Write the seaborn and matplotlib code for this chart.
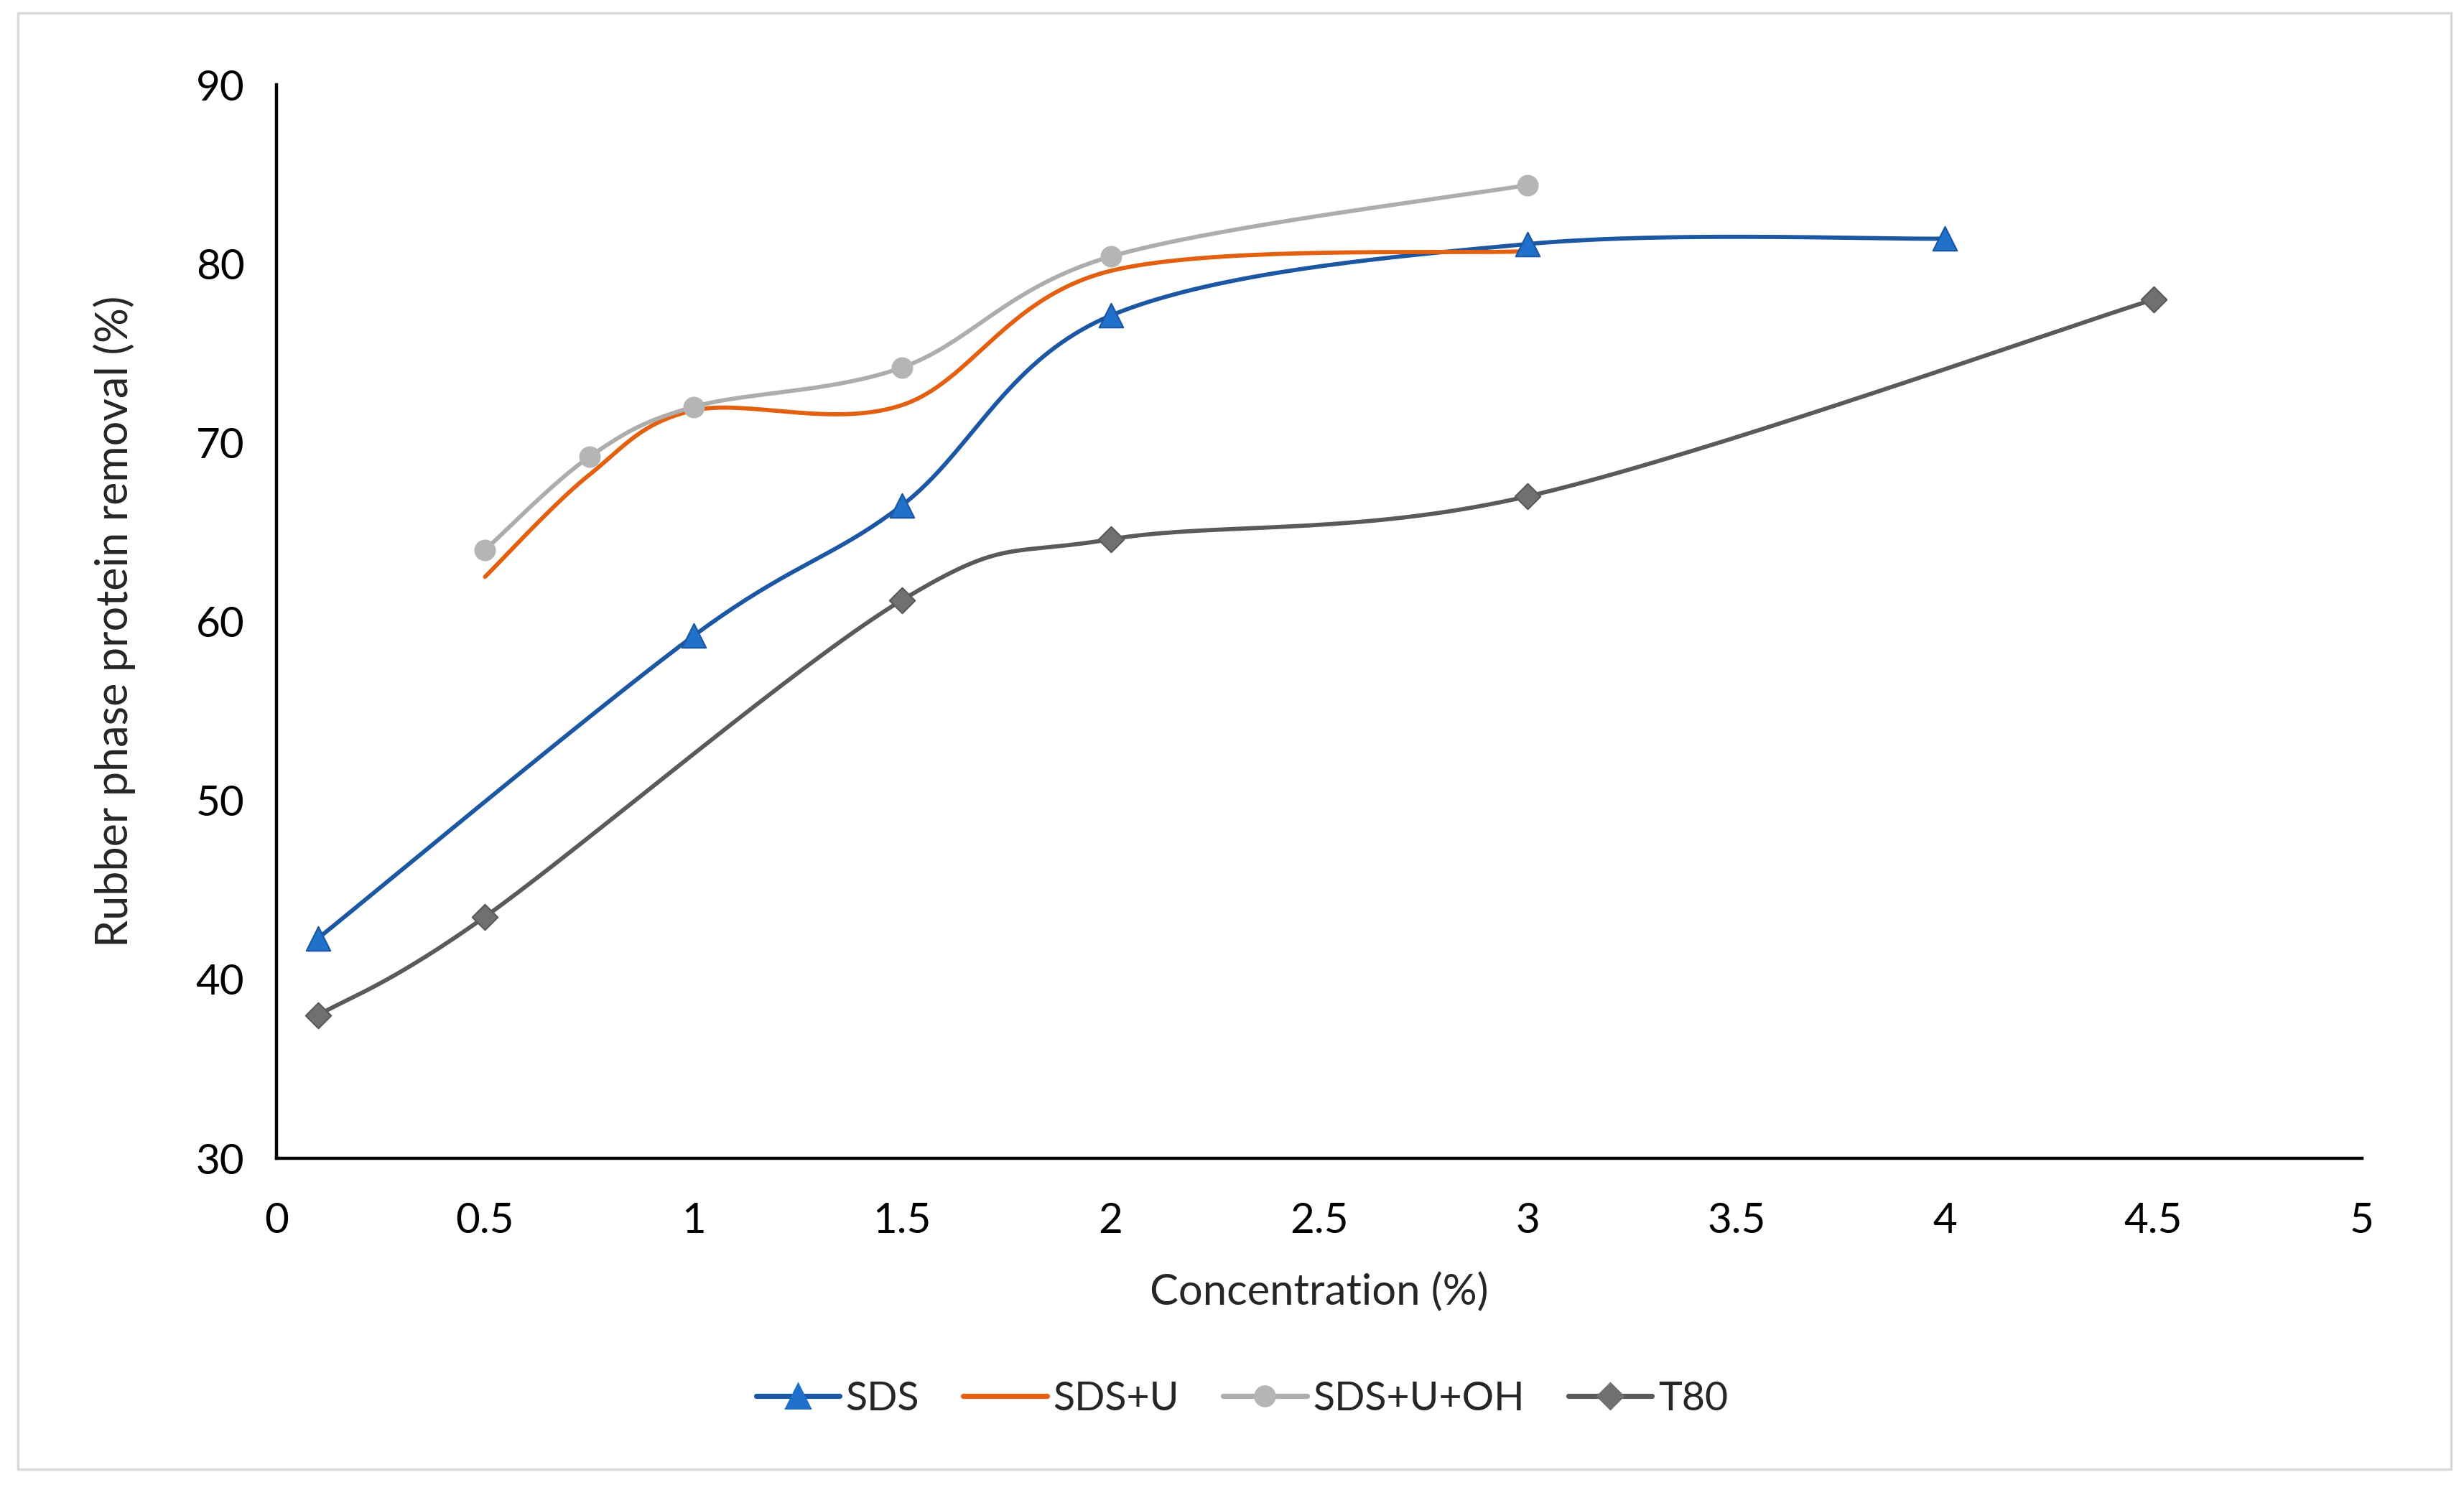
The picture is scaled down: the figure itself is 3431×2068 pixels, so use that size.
import numpy as np
import pandas as pd
import matplotlib
matplotlib.use('Agg')
import matplotlib.pyplot as plt
from matplotlib.lines import Line2D
from matplotlib.patches import Rectangle
import seaborn as sns

sns.set_style('white')
plt.rcParams['font.family'] = ['Lato', 'DejaVu Sans']

# values
sds_x = [0.1, 1, 1.5, 2, 3, 4]
sds_y = [42.3, 59.2, 66.5, 77.1, 81.1, 81.4]

sdsu_x = [0.5, 0.75, 1, 1.5, 2, 3]
sdsu_y = [62.5, 68.2, 71.8, 72.1, 79.6, 80.7]

sdsuoh_x = [0.5, 0.75, 1, 1.5, 2, 3]
sdsuoh_y = [64.0, 69.2, 72.0, 74.2, 80.4, 84.4]

t80_x = [0.1, 0.5, 1.5, 2, 3, 4.5]
t80_y = [38.0, 43.5, 61.2, 64.6, 67.0, 78.0]

names = ['SDS', 'SDS+U', 'SDS+U+OH', 'T80']
xs = [sds_x, sdsu_x, sdsuoh_x, t80_x]
ys = [sds_y, sdsu_y, sdsuoh_y, t80_y]

line_colors = ['#1B57A3', '#E2600F', '#ADADAD', '#5A5A5A']
marker_colors = ['#2071CC', '#E2600F', '#B5B5B5', '#707070']
markers = ['^', None, 'o', 'D']
msizes = [12, 0, 10, 9]


def smooth(x, y, n=40):
    # Excel style smoothing (Catmull-Rom bezier through the points)
    p = np.column_stack([x, y]).astype(float)
    out = []
    for i in range(len(p) - 1):
        p0 = p[i - 1] if i > 0 else p[i]
        p1 = p[i]
        p2 = p[i + 1]
        p3 = p[i + 2] if i + 2 < len(p) else p[i + 1]
        c1 = p1 + (p2 - p0) / 6
        c2 = p2 - (p3 - p1) / 6
        t = np.linspace(0, 1, n)[:, None]
        seg = ((1 - t) ** 3) * p1 + 3 * ((1 - t) ** 2) * t * c1 + 3 * (1 - t) * t ** 2 * c2 + t ** 3 * p2
        out.append(seg if i == 0 else seg[1:])
    s = np.vstack(out)
    return s[:, 0], s[:, 1]


fig = plt.figure(figsize=(17.155, 10.34), dpi=200)
ax = fig.add_axes([0.1122, 0.22, 0.9586 - 0.1122, 0.9429 - 0.22])

for name, x, y, lc, mc, mk, ms in zip(names, xs, ys, line_colors, marker_colors, markers, msizes):
    sx, sy = smooth(x, y)
    ax.plot(sx, sy, color=lc, lw=2.1, zorder=2, solid_capstyle='round')
    if mk is not None:
        df = pd.DataFrame({'x': x, 'y': y})
        sns.scatterplot(data=df, x='x', y='y', ax=ax, marker=mk, s=ms ** 2,
                        color=mc, edgecolor=lc if name != 'SDS+U+OH' else mc,
                        linewidth=0.8, zorder=3)

ax.set_xlim(0, 5)
ax.set_ylim(30, 90)
ax.set_xticks(np.arange(0, 5.01, 0.5))
ax.set_xticklabels(['0', '0.5', '1', '1.5', '2', '2.5', '3', '3.5', '4', '4.5', '5'])
ax.set_yticks(range(30, 91, 10))
ax.tick_params(axis='both', direction='out', length=8, width=1.6, labelsize=21,
               colors='black', pad=8)
ax.tick_params(axis='x', pad=14)
for side in ['top', 'right']:
    ax.spines[side].set_visible(False)
for side in ['left', 'bottom']:
    ax.spines[side].set_linewidth(1.6)
    ax.spines[side].set_color('black')

ax.set_xlabel('Concentration (%)', fontsize=21.5, labelpad=16)
ax.set_ylabel('Rubber phase protein removal (%)', fontsize=22, labelpad=30)

handles = []
for name, lc, mc, mk, ms in zip(names, line_colors, marker_colors, markers, msizes):
    handles.append(Line2D([0], [0], color=lc, lw=2.6, marker=mk if mk else None,
                          markersize=ms, markerfacecolor=mc, markeredgecolor=mc))
fig.legend(handles, names, loc='center', bbox_to_anchor=(0.504, 0.058), ncol=4,
           frameon=False, fontsize=20, handlelength=2.1, handletextpad=0.15,
           columnspacing=1.1)

fig.patches.append(Rectangle((25 / 3431, 1 - 2046 / 2068), (3413 - 25) / 3431, (2046 - 18) / 2068,
                             transform=fig.transFigure, fill=False, edgecolor='#D9D9D9', lw=1.2))

fig.savefig('out.png', dpi=200, facecolor='white')
